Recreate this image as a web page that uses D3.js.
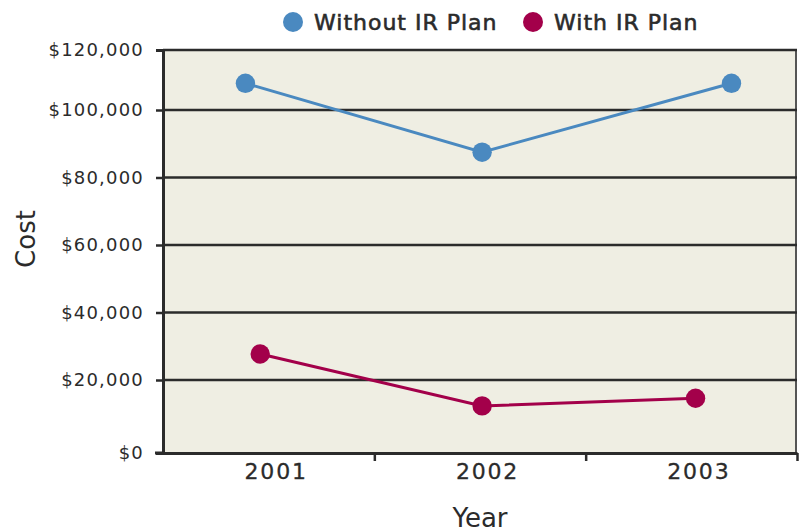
<!DOCTYPE html>
<html>
<head>
<meta charset="utf-8">
<script src="https://cdn.jsdelivr.net/npm/d3@7"></script>
<style>
  body { margin: 0; background: #fff; }
  text { font-family: "DejaVu Sans", sans-serif; fill: #2b2b2b; }
</style>
</head>
<body>
<div id="chart-area"></div>
<script>
// data
let years = [2001, 2002, 2003];
let yTicks = [0, 20000, 40000, 60000, 80000, 100000, 120000];
let seriesNames = ["Without IR Plan", "With IR Plan"];
let seriesColors = ["#4a89c0", "#a3004a"];
// x positions (in year units, points are not centred on their years)
let withoutX = [2000.89, 2002.01, 2003.19];
let withoutCost = [108900, 87500, 108900];
let withX = [2000.96, 2002.01, 2003.02];
let withCost = [27700, 12900, 15000];

let width = 799, height = 532;
let margin = {top: 50, right: 2, bottom: 79, left: 163};

let svg = d3.select("#chart-area")
	.append("svg")
	.attr("width", width)
	.attr("height", height);

// scales
let x = d3.scaleLinear()
	.domain([2000.5, 2003.5])
	.range([margin.left, width - margin.right]);

// gridlines in the original are slightly uneven
let y = d3.scaleLinear()
	.domain([0, 20000, 100000, 120000])
	.range([453, 380, 110, 50]);

// plot background
svg.append("rect")
	.attr("x", x(2000.5))
	.attr("y", y(120000))
	.attr("width", x(2003.5) - x(2000.5))
	.attr("height", y(0) - y(120000))
	.attr("fill", "#efeee3");

// right border
svg.append("line")
	.attr("x1", x(2003.5) - 1).attr("x2", x(2003.5) - 1)
	.attr("y1", y(120000)).attr("y2", y(0))
	.attr("stroke", "#555").attr("stroke-width", 2);

// gridlines
svg.selectAll(".grid")
	.data(yTicks.filter(d => d > 0))
	.enter()
	.append("line")
	.attr("class", "grid")
	.attr("x1", x(2000.5))
	.attr("x2", x(2003.5))
	.attr("y1", d => y(d))
	.attr("y2", d => y(d))
	.attr("stroke", "#2b2b2b")
	.attr("stroke-width", 2.5);

// y axis
let yAxis = d3.axisLeft(y)
	.tickValues(yTicks)
	.tickSize(7)
	.tickPadding(12)
	.tickFormat(d => "$" + d3.format(",")(d));

let yGroup = svg.append("g")
	.attr("transform", "translate(" + x(2000.5) + ",0)")
	.call(yAxis);
yGroup.select(".domain").attr("stroke", "#2b2b2b").attr("stroke-width", 3);
yGroup.selectAll(".tick line").attr("stroke", "#2b2b2b").attr("stroke-width", 2.5);
yGroup.selectAll(".tick text")
	.style("font-family", "DejaVu Sans")
	.style("font-size", "18px")
	.style("letter-spacing", "1.2px")
	.attr("fill", "#2b2b2b");

// x axis: boundary ticks
let xAxis = d3.axisBottom(x)
	.tickValues([2001.5, 2002.5, 2003.5])
	.tickSize(8)
	.tickSizeOuter(0)
	.tickFormat("");

let xGroup = svg.append("g")
	.attr("transform", "translate(0," + y(0) + ")")
	.call(xAxis);
xGroup.select(".domain").attr("stroke", "#2b2b2b").attr("stroke-width", 3);
xGroup.selectAll(".tick line").attr("stroke", "#2b2b2b").attr("stroke-width", 2.5);

// left stub of the baseline
svg.append("line")
	.attr("x1", x(2000.5) - 8).attr("x2", x(2000.5))
	.attr("y1", y(0)).attr("y2", y(0))
	.attr("stroke", "#2b2b2b").attr("stroke-width", 3);

// year labels
let labelAxis = d3.axisBottom(x)
	.tickValues(years)
	.tickSize(0)
	.tickPadding(10)
	.tickFormat(d3.format("d"));

let labelGroup = svg.append("g")
	.attr("transform", "translate(7," + y(0) + ")")
	.call(labelAxis);
labelGroup.select(".domain").remove();
labelGroup.selectAll(".tick text")
	.style("font-family", "DejaVu Sans")
	.style("font-size", "22px")
	.style("letter-spacing", "1.8px")
	.style("stroke", "#2b2b2b")
	.style("stroke-width", "0.3px")
	.attr("fill", "#2b2b2b");

// axis titles
svg.append("text")
	.attr("x", x(2002))
	.attr("y", 527)
	.attr("text-anchor", "middle")
	.style("font-size", "26px")
	.text("Year");

svg.append("text")
	.attr("transform", "translate(35,239) rotate(-90)")
	.attr("text-anchor", "middle")
	.style("font-size", "26px")
	.text("Cost");

// series
let series = [
	{name: seriesNames[0], color: seriesColors[0], values: withoutX.map((v, i) => ({x: v, cost: withoutCost[i]}))},
	{name: seriesNames[1], color: seriesColors[1], values: withX.map((v, i) => ({x: v, cost: withCost[i]}))}
];

let line = d3.line()
	.x(d => x(d.x))
	.y(d => y(d.cost));

series.forEach(s => {
	svg.append("path")
		.datum(s.values)
		.attr("d", line)
		.attr("fill", "none")
		.attr("stroke", s.color)
		.attr("stroke-width", 3);

	svg.selectAll(null)
		.data(s.values)
		.enter()
		.append("circle")
		.attr("cx", d => x(d.x))
		.attr("cy", d => y(d.cost))
		.attr("r", 9.7)
		.attr("fill", s.color);
});

// legend
let legendX = [293, 533];
let legend = svg.selectAll(".legend")
	.data(series)
	.enter()
	.append("g")
	.attr("class", "legend")
	.attr("transform", (d, i) => "translate(" + legendX[i] + ",22)");

legend.append("circle")
	.attr("r", 10)
	.attr("fill", d => d.color);

legend.append("text")
	.attr("x", 21)
	.attr("y", 8)
	.style("font-size", "22px")
	.style("letter-spacing", "1px")
	.style("stroke", "#2b2b2b")
	.style("stroke-width", "0.6px")
	.text(d => d.name);
</script>
</body>
</html>
